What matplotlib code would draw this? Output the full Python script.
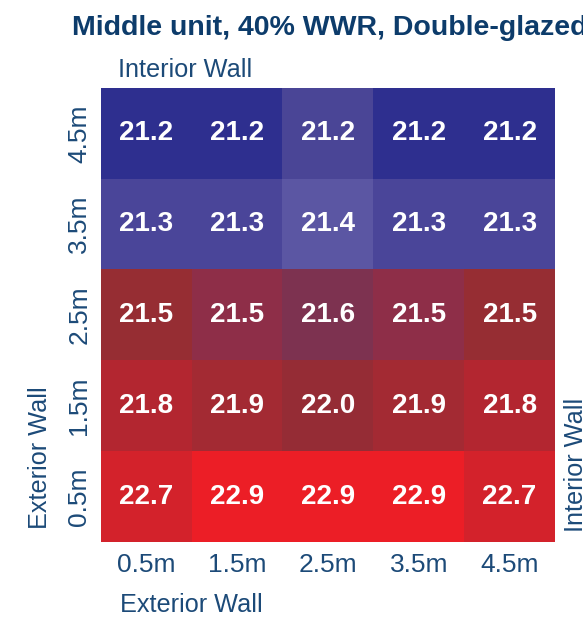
import numpy as np
import matplotlib
matplotlib.use("Agg")
import matplotlib.pyplot as plt
from matplotlib.colors import to_rgb

plt.rcParams['font.family'] = ['Liberation Sans', 'DejaVu Sans']

x_labels = ["0.5m", "1.5m", "2.5m", "3.5m", "4.5m"]
y_labels = ["4.5m", "3.5m", "2.5m", "1.5m", "0.5m"]  # top to bottom
values = [
    [21.2, 21.2, 21.2, 21.2, 21.2],
    [21.3, 21.3, 21.4, 21.3, 21.3],
    [21.5, 21.5, 21.6, 21.5, 21.5],
    [21.8, 21.9, 22.0, 21.9, 21.8],
    [22.7, 22.9, 22.9, 22.9, 22.7],
]
title = "Middle unit, 40% WWR, Double-glazed"

# cell fill colours (style)
cell_colors = [
    ["#2E2F8F", "#2E2F8F", "#4A4596", "#2E2F8F", "#2E2F8F"],
    ["#4A4599", "#4A4599", "#5B56A3", "#4A4599", "#4A4599"],
    ["#962D33", "#8E2E48", "#7D3250", "#8E2E48", "#962D33"],
    ["#B32630", "#A32A33", "#952C35", "#A32A33", "#B32630"],
    ["#D3222B", "#EC1E26", "#EC1E26", "#EC1E26", "#D3222B"],
]

W, H = 583, 619
fig = plt.figure(figsize=(W / 100, H / 100), dpi=100)
ax = fig.add_axes([101 / W, 1 - 542 / H, 454 / W, 454 / H])

rgb = np.array([[to_rgb(c) for c in row] for row in cell_colors])
ax.imshow(rgb, aspect='auto', interpolation='nearest')
vals = np.array(values)
for i in range(vals.shape[0]):
    for j in range(vals.shape[1]):
        ax.text(j, i, f"{vals[i, j]:.1f}", ha='center', va='center',
                color='white', fontsize=20, fontweight='bold')

lab_col = "#1C4A78"
ax.set_xticks(range(len(x_labels)))
ax.set_xticklabels(x_labels, fontsize=19, color=lab_col)
ax.set_yticks(range(len(y_labels)))
ax.set_yticklabels(y_labels, fontsize=19, color=lab_col, rotation=90, va='center')
ax.tick_params(axis='x', length=0, pad=8)
ax.tick_params(axis='y', length=0, pad=7)
for s in ax.spines.values():
    s.set_visible(False)

fig.text(72 / W, 1 - 28 / H, title, ha='left', va='center', fontsize=20.5,
         fontweight='bold', color="#0D3C6B")
fig.text(118 / W, 1 - 70 / H, "Interior Wall", ha='left', va='center',
         fontsize=18.2, color=lab_col)
fig.text(120 / W, 1 - 605 / H, "Exterior Wall", ha='left', va='center',
         fontsize=18.2, color=lab_col)
fig.text(40 / W, 1 - 458 / H, "Exterior Wall", ha='center', va='center',
         fontsize=18.2, color=lab_col, rotation=90)
fig.text(576 / W, 1 - 532 / H, "Interior Wall", ha='center', va='bottom',
         fontsize=18.2, color=lab_col, rotation=90)

fig.savefig("out.png", dpi=100)
